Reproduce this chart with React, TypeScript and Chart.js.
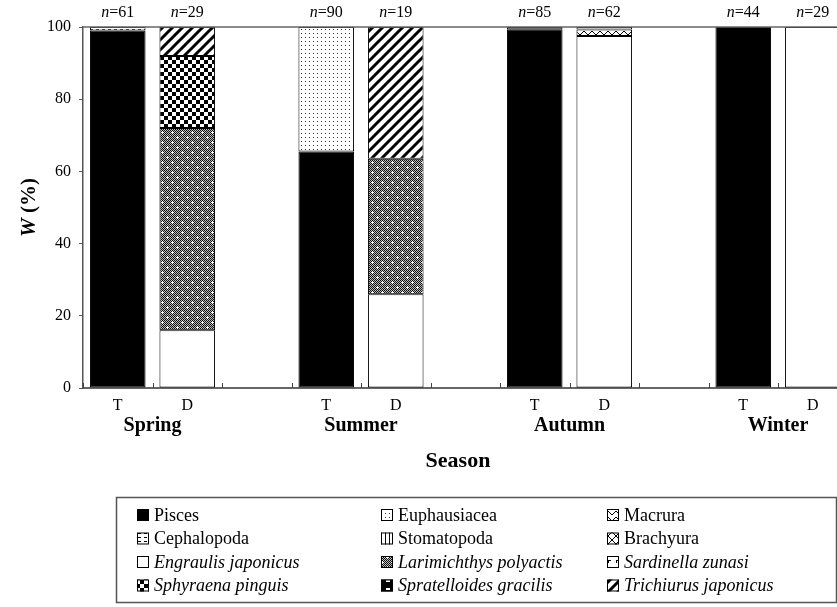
import React, { useEffect, useRef } from "react";
import { Chart, registerables } from "chart.js";

Chart.register(...registerables);

// ---------- data ----------
const slotLabels = ["T", "D", "", "T", "D", "", "T", "D", "", "T", "D", ""];
const seasonNames = ["Spring", "Summer", "Autumn", "Winter"];
const sampleSizes = [61, 29, null, 90, 19, null, 85, 62, null, 44, 29, null];
const yTickValues = [0, 20, 40, 60, 80, 100];

const pisces = [99, null, null, 65.5, null, null, 99.4, null, null, 100, null, null];
const euphausiacea = [null, null, null, 34.5, null, null, null, null, null, null, null, null];
const macrura = [null, null, null, null, null, null, null, 1.8, null, null, null, null];
const cephalopoda = [1, null, null, null, null, null, 0.6, 0.7, null, null, null, null];
const stomatopoda = [null, null, null, null, null, null, null, null, null, null, null, null];
const brachyura = [null, null, null, null, null, null, null, null, null, null, null, null];
const engraulis = [null, 16, null, null, 26, null, null, 97.5, null, null, 100, null];
const larimichthys = [null, 56, null, null, 37.5, null, null, null, null, null, null, null];
const sardinella = [null, null, null, null, null, null, null, null, null, null, null, null];
const sphyraena = [null, 20, null, null, null, null, null, null, null, null, null, null];
const spratelloides = [null, null, null, null, null, null, null, null, null, null, null, null];
const trichiurus = [null, 8, null, null, 36.5, null, null, null, null, null, null, null];

type Entry = { name: string; italic: boolean; data: (number | null)[]; pat: string };

// stacking order (bottom -> top)
const stackEntries: Entry[] = [
  { name: "Pisces", italic: false, data: pisces, pat: "black" },
  { name: "Euphausiacea", italic: false, data: euphausiacea, pat: "dots" },
  { name: "Engraulis japonicus", italic: true, data: engraulis, pat: "white" },
  { name: "Larimichthys polyactis", italic: true, data: larimichthys, pat: "larim" },
  { name: "Sphyraena pinguis", italic: true, data: sphyraena, pat: "checker" },
  { name: "Trichiurus japonicus", italic: true, data: trichiurus, pat: "stripes" },
  { name: "Macrura", italic: false, data: macrura, pat: "zigzag" },
  { name: "Cephalopoda", italic: false, data: cephalopoda, pat: "hdash" },
  { name: "Stomatopoda", italic: false, data: stomatopoda, pat: "vlines" },
  { name: "Brachyura", italic: false, data: brachyura, pat: "cross" },
  { name: "Sardinella zunasi", italic: true, data: sardinella, pat: "corner" },
  { name: "Spratelloides gracilis", italic: true, data: spratelloides, pat: "sprat" },
];

const legendOrder = [
  "Pisces", "Euphausiacea", "Macrura",
  "Cephalopoda", "Stomatopoda", "Brachyura",
  "Engraulis japonicus", "Larimichthys polyactis", "Sardinella zunasi",
  "Sphyraena pinguis", "Spratelloides gracilis", "Trichiurus japonicus",
];

const SERIF = "'Liberation Serif', 'Times New Roman', serif";

function makePattern(kind: string): CanvasPattern | string {
  if (kind === "black") return "#000000";
  if (kind === "white") return "#ffffff";
  const c = document.createElement("canvas");
  let w = 8, h = 8;
  if (kind === "dots") { w = 4; h = 4; }
  if (kind === "larim") { w = 10; h = 10; }
  if (kind === "stripes") { w = 10; h = 10; }
  if (kind === "zigzag") { w = 8; h = 6; }
  if (kind === "hdash") { w = 6; h = 4; }
  if (kind === "vlines") { w = 4; h = 4; }
  c.width = w; c.height = h;
  const g = c.getContext("2d")!;
  g.fillStyle = "#fff";
  g.fillRect(0, 0, w, h);
  g.fillStyle = "#000";
  g.strokeStyle = "#000";
  switch (kind) {
    case "dots":
      g.fillStyle = "#333";
      g.fillRect(1, 1, 1, 1);
      break;
    case "larim":
      for (let y = 0; y < h; y++)
        for (let x = 0; x < w; x++) {
          g.fillStyle = (x + y) % 2 === 0 ? "#111" : "#bbb";
          g.fillRect(x, y, 1, 1);
        }
      g.fillStyle = "#fff";
      [[2, 2], [7, 7]].forEach(([px, py]) => {
        g.fillRect(px - 1, py, 3, 1);
        g.fillRect(px, py - 1, 1, 3);
      });
      break;
    case "checker":
      g.fillRect(0, 0, 4, 4);
      g.fillRect(4, 4, 4, 4);
      break;
    case "stripes":
      g.lineWidth = 3;
      g.beginPath();
      for (const o of [-10, 0, 10]) {
        g.moveTo(o - 1, h + 1);
        g.lineTo(o + w + 1, -1);
      }
      g.stroke();
      break;
    case "zigzag":
      g.lineWidth = 1;
      g.beginPath();
      g.moveTo(0, 1);
      g.lineTo(4, 5);
      g.lineTo(8, 1);
      g.stroke();
      break;
    case "hdash":
      g.fillRect(0, 1, 3, 1);
      break;
    case "vlines":
      g.fillRect(1, 0, 1, h);
      break;
    case "cross":
      g.lineWidth = 1;
      g.beginPath();
      g.moveTo(0, 0); g.lineTo(8, 8);
      g.moveTo(8, 0); g.lineTo(0, 8);
      g.stroke();
      break;
    case "corner":
      g.fillRect(0, 0, 1, 3);
      g.fillRect(0, 0, 3, 1);
      break;
    case "sprat":
      g.fillRect(0, 0, 8, 8);
      g.fillStyle = "#fff";
      g.fillRect(2, 4, 4, 2);
      break;
  }
  return g.createPattern(c, "repeat")!;
}

const W = 920;
const H = 607;

export default function App() {
  const ref = useRef<HTMLCanvasElement | null>(null);

  useEffect(() => {
    if (!ref.current) return;
    const fills: Record<string, CanvasPattern | string> = {};
    stackEntries.forEach((e) => (fills[e.name] = makePattern(e.pat)));

    const overlay = {
      id: "overlay",
      afterDraw(chart: any) {
        const ctx = chart.ctx as CanvasRenderingContext2D;
        const area = chart.chartArea;
        const xs = chart.scales.x;
        const n = slotLabels.length;
        const slotW = (area.right - area.left) / n;
        ctx.save();
        // top line
        ctx.strokeStyle = "#666";
        ctx.lineWidth = 1.5;
        ctx.beginPath();
        ctx.moveTo(area.left, area.top);
        ctx.lineTo(area.right, area.top);
        ctx.stroke();
        // inner x tick marks at slot boundaries
        ctx.strokeStyle = "#444";
        ctx.lineWidth = 1;
        for (let i = 0; i <= n; i++) {
          const x = Math.round(area.left + i * slotW) + 0.5;
          ctx.beginPath();
          ctx.moveTo(x, area.bottom);
          ctx.lineTo(x, area.bottom - 5);
          ctx.stroke();
        }
        // n= labels
        ctx.fillStyle = "#000";
        ctx.textBaseline = "middle";
        sampleSizes.forEach((v, i) => {
          if (v === null) return;
          const cx = xs.getPixelForValue(i);
          const f1 = `italic 16px ${SERIF}`;
          const f2 = `16px ${SERIF}`;
          const t2 = "=" + v;
          ctx.font = f1;
          const w1 = ctx.measureText("n").width;
          ctx.font = f2;
          const w2 = ctx.measureText(t2).width;
          const x0 = cx - (w1 + w2) / 2;
          ctx.textAlign = "left";
          ctx.font = f1;
          ctx.fillText("n", x0, 13);
          ctx.font = f2;
          ctx.fillText(t2, x0 + w1, 13);
        });
        // season labels
        ctx.font = `bold 20px ${SERIF}`;
        ctx.textAlign = "center";
        seasonNames.forEach((s, k) => {
          const x = (xs.getPixelForValue(k * 3) + xs.getPixelForValue(k * 3 + 1)) / 2;
          ctx.fillText(s, x, 426);
        });
        // axis title
        ctx.font = `bold 22px ${SERIF}`;
        ctx.fillText("Season", 458, 461);
        // y title
        ctx.save();
        ctx.translate(30, (area.top + area.bottom) / 2);
        ctx.rotate(-Math.PI / 2);
        const fa = `bold italic 21px ${SERIF}`;
        const fb = `bold 21px ${SERIF}`;
        ctx.font = fa;
        const wa = ctx.measureText("W").width;
        ctx.font = fb;
        const wb = ctx.measureText(" (%)").width;
        ctx.textAlign = "left";
        ctx.font = fa;
        ctx.fillText("W", -(wa + wb) / 2, 0);
        ctx.font = fb;
        ctx.fillText(" (%)", -(wa + wb) / 2 + wa, 0);
        ctx.restore();
        // legend box
        const bx = 116, by = 497, bw = 720, bh = 105;
        ctx.strokeStyle = "#555";
        ctx.lineWidth = 1.5;
        ctx.strokeRect(bx + 0.5, by + 0.5, bw, bh);
        const colX = [137, 381, 607];
        const rowY = [515, 538.5, 562, 585.5];
        legendOrder.forEach((name, i) => {
          const col = i % 3;
          const row = Math.floor(i / 3);
          const ix = colX[col];
          const iy = rowY[row];
          ctx.fillStyle = fills[name] as any;
          ctx.fillRect(ix, iy - 6, 12, 12);
          ctx.strokeStyle = "#000";
          ctx.lineWidth = 1;
          ctx.strokeRect(ix + 0.5, iy - 5.5, 11, 11);
          const e = stackEntries.find((s) => s.name === name)!;
          ctx.fillStyle = "#000";
          ctx.textAlign = "left";
          ctx.font = `${e.italic ? "italic " : ""}18px ${SERIF}`;
          ctx.fillText(name, ix + 17, iy + 1);
        });
        ctx.restore();
      },
    };

    const chart = new Chart(ref.current, {
      type: "bar",
      data: {
        labels: slotLabels,
        datasets: stackEntries.map((e) => ({
          label: e.name,
          data: e.data as any,
          backgroundColor: fills[e.name] as any,
          borderColor: "#000",
          borderWidth: 1,
          borderSkipped: false,
          barPercentage: 0.8,
          categoryPercentage: 1.0,
        })),
      },
      options: {
        animation: false,
        responsive: false,
        devicePixelRatio: 1,
        layout: { padding: { top: 27, right: 3, left: 0, bottom: 0 } },
        plugins: { legend: { display: false }, tooltip: { enabled: false } },
        scales: {
          x: {
            stacked: true,
            grid: { display: true, drawOnChartArea: false, drawTicks: false },
            border: { display: true, color: "#666", width: 2 },
            ticks: {
              color: "#000",
              font: { family: SERIF, size: 16 },
              padding: 8,
              autoSkip: false,
              maxRotation: 0,
            },
            afterFit: (s: any) => {
              s.height = H - 388;
            },
          },
          y: {
            stacked: true,
            min: 0,
            max: 100,
            afterBuildTicks: (s: any) => {
              s.ticks = yTickValues.map((v) => ({ value: v }));
            },
            grid: { drawOnChartArea: false, drawTicks: true, tickLength: 4, color: "#555" },
            border: { display: true, color: "#555", width: 1.5 },
            ticks: {
              color: "#000",
              font: { family: SERIF, size: 16 },
              padding: 8,
            },
            afterFit: (s: any) => {
              s.width = 83;
            },
          },
        },
      },
      plugins: [overlay],
    });
    return () => chart.destroy();
  }, []);

  return (
    <div
      style={{
        position: "fixed",
        left: 0,
        top: 0,
        width: 837,
        height: 607,
        overflow: "hidden",
        background: "#fff",
      }}
    >
      <canvas ref={ref} width={W} height={H} style={{ width: W, height: H, display: "block" }} />
    </div>
  );
}
